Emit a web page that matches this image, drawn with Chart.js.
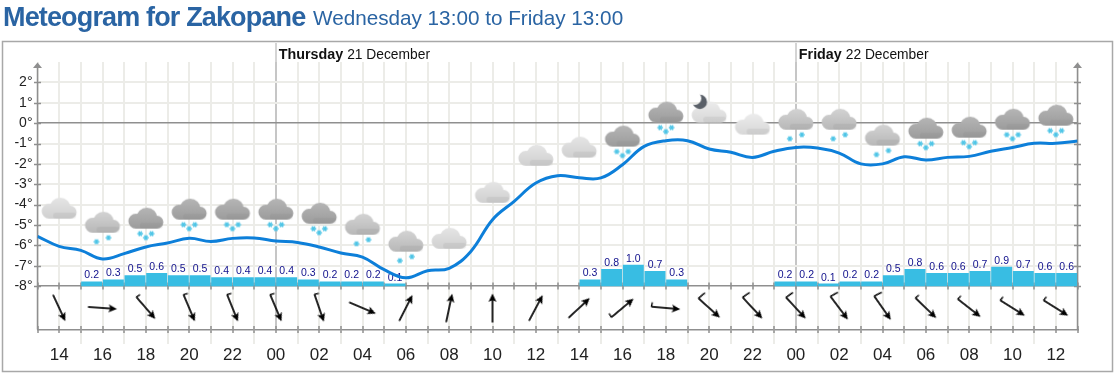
<!DOCTYPE html>
<html>
<head>
<meta charset="utf-8">
<title>Meteogram for Zakopane</title>
<script src="https://cdn.jsdelivr.net/npm/chart.js@4/dist/chart.umd.js"></script>
<style>
    body { margin: 0; background: #fff; font-family: "Liberation Sans", Arial, sans-serif; }
    #head { position: absolute; left: 3px; top: 0; white-space: nowrap; color: #2a64a3; line-height: 34px; }
    #head b { font-size: 27px; letter-spacing: -0.85px; }
    #head span { position: absolute; left: 310px; top: 1px; font-size: 20.7px; }
    #meteogram { position: absolute; left: 0; top: 0; }
</style>
</head>
<body>
<canvas id="meteogram" width="1118" height="377"></canvas>
<div id="head"><b>Meteogram for Zakopane</b> <span>Wednesday 13:00 to Friday 13:00</span></div>
<script>
// hours since Wednesday 13:00
var hours = [0, 1, 2, 3, 4, 5, 6, 7, 8, 9, 10, 11, 12, 13, 14, 15, 16, 17, 18, 19, 20, 21, 22, 23, 24,
    25, 26, 27, 28, 29, 30, 31, 32, 33, 34, 35, 36, 37, 38, 39, 40, 41, 42, 43, 44, 45, 46, 47, 48];
var temperature = [-5.56, -6.05, -6.25, -6.67, -6.41, -6.08, -5.89, -5.66, -5.81, -5.66, -5.64, -5.79, -5.86,
    -6.08, -6.38, -6.58, -7.2, -7.6, -7.25, -7.13, -6.3, -4.74, -3.84, -2.94, -2.58, -2.68, -2.69, -2.04,
    -1.14, -0.86, -0.86, -1.27, -1.43, -1.68, -1.38, -1.19, -1.22, -1.47, -2.0, -2.0, -1.65, -1.81, -1.68,
    -1.63, -1.38, -1.19, -0.99, -0.99, -0.88];

var precipHours = [2.5, 3.5, 4.5, 5.5, 6.5, 7.5, 8.5, 9.5, 10.5, 11.5, 12.5, 13.5, 14.5, 15.5, 16.5,
    25.5, 26.5, 27.5, 28.5, 29.5,
    34.5, 35.5, 36.5, 37.5, 38.5, 39.5, 40.5, 41.5, 42.5, 43.5, 44.5, 45.5, 46.5, 47.5];
var precip = [0.2, 0.3, 0.5, 0.6, 0.5, 0.5, 0.4, 0.4, 0.4, 0.4, 0.3, 0.2, 0.2, 0.2, 0.1,
    0.3, 0.8, 1.0, 0.7, 0.3,
    0.2, 0.2, 0.1, 0.2, 0.2, 0.5, 0.8, 0.6, 0.6, 0.7, 0.9, 0.7, 0.6, 0.6];

var labelHours = [1, 3, 5, 7, 9, 11, 13, 15, 17, 19, 21, 23, 25, 27, 29, 31, 33, 35, 37, 39, 41, 43, 45, 47];
var hourLabels = ['14', '16', '18', '20', '22', '00', '02', '04', '06', '08', '10', '12',
    '14', '16', '18', '20', '22', '00', '02', '04', '06', '08', '10', '12'];
var tempTicks = [-8, -7, -6, -5, -4, -3, -2, -1, 0, 1, 2];

// cloud icon: level on the temperature axis, shade 0-3, snowflake count
var cloudLevel = [-4.2, -4.89, -4.69, -4.25, -4.25, -4.25, -4.45, -4.99, -5.82, -5.68, -3.42, -1.6,
    -1.2, -0.66, 0.52, 0.52, -0.07, 0.17, 0.17, -0.61, -0.27, -0.22, 0.17, 0.37];
var cloudShade = [1, 2, 3, 3, 3, 3, 3, 2, 2, 1, 1, 1, 1, 3, 3, 0, 0, 2, 2, 2, 3, 3, 3, 3];
var cloudSnow = [0, 2, 3, 3, 3, 3, 3, 2, 2, 0, 0, 0, 0, 3, 3, 0, 0, 2, 2, 2, 3, 3, 3, 3];
var moonHour = [30.5];
var moonLevel = [1.0];

// wind arrow heading in degrees clockwise from up, barb 0 none, 1 short, 2 long
var windDir = [155, 94, 139, 157, 158, 157, 161, 113, 27, 12, 0, 28, 47, 50, 95, 132, 137, 137, 143, 145, 134, 128, 122, 122];
var windBarb = [0, 0, 1, 1, 1, 1, 1, 0, 0, 0, 0, 0, 0, 1, 1, 2, 2, 2, 2, 2, 1, 1, 1, 1];
var windLevel = [-9.08];

var dayHours = [11, 35];
var dayNames = ['Thursday', 'Friday'];
var dayDates = ['21 December', '22 December'];

var axisColor = '#8f8f8f';
var gridColor = '#ecece8';

function cloudIcon(shade, snow) {
    var colors = [['#ebebeb', '#d8d8d8'], ['#e4e4e4', '#d0d0d0'], ['#d2d2d2', '#b8b8b8'], ['#b4b4b4', '#9c9c9c']];
    var c = document.createElement('canvas');
    c.width = 44;
    c.height = 60;
    var ctx = c.getContext('2d');
    ctx.translate(22, 30);
    ctx.filter = 'blur(0.4px)';
    var grad = ctx.createLinearGradient(0, -10, 0, 10);
    grad.addColorStop(0, colors[shade][0]);
    grad.addColorStop(1, colors[shade][1]);
    ctx.fillStyle = grad;
    ctx.beginPath();
    ctx.arc(-10, 2.5, 7.5, 0, Math.PI * 2);
    ctx.moveTo(11.5, -0.5);
    ctx.arc(1, -0.5, 10.5, 0, Math.PI * 2);
    ctx.moveTo(17.5, 3.5);
    ctx.arc(11, 3.5, 6.5, 0, Math.PI * 2);
    ctx.rect(-10, 2, 21, 8);
    ctx.fill('nonzero');
    ctx.fillStyle = 'rgba(120,120,120,0.12)';
    ctx.beginPath();
    ctx.roundRect(-6, 4, 23, 6, 3);
    ctx.fill();

    var flakes = snow == 3 ? [[-5.7, 15], [0, 19], [5.7, 15]] : snow == 2 ? [[-6, 19], [6, 15]] : [];
    ctx.filter = 'none';
    ctx.strokeStyle = '#4cc4e6';
    ctx.lineWidth = 1.5;
    flakes.forEach(function (f) {
        for (var a = 0; a < 3; a++) {
            var ang = a * Math.PI / 3;
            ctx.beginPath();
            ctx.moveTo(f[0] - Math.cos(ang) * 2.8, f[1] - Math.sin(ang) * 2.8);
            ctx.lineTo(f[0] + Math.cos(ang) * 2.8, f[1] + Math.sin(ang) * 2.8);
            ctx.stroke();
        }
    });
    return c;
}

function moonIcon() {
    var c = document.createElement('canvas');
    c.width = 24;
    c.height = 24;
    var ctx = c.getContext('2d');
    ctx.translate(12, 12);
    ctx.fillStyle = '#5a6068';
    ctx.beginPath();
    ctx.arc(1.5, -1, 7.2, 0, Math.PI * 2);
    ctx.fill();
    ctx.globalCompositeOperation = 'destination-out';
    ctx.beginPath();
    ctx.arc(-3.5, -4.5, 6.5, 0, Math.PI * 2);
    ctx.fill();
    return c;
}

function windIcon(barb) {
    var c = document.createElement('canvas');
    c.width = 44;
    c.height = 44;
    var ctx = c.getContext('2d');
    ctx.translate(22, 22);
    ctx.strokeStyle = '#000';
    ctx.fillStyle = '#000';
    ctx.lineWidth = 1.7;
    ctx.beginPath();
    ctx.moveTo(0, 14.5);
    ctx.lineTo(0, -10);
    ctx.stroke();
    ctx.beginPath();
    ctx.moveTo(0, -14.5);
    ctx.lineTo(4, -6);
    ctx.lineTo(0, -8);
    ctx.lineTo(-4, -6);
    ctx.closePath();
    ctx.fill();
    if (barb > 0) {
        var len = barb == 2 ? 8.5 : 4.5;
        ctx.lineWidth = 1.4;
        ctx.beginPath();
        ctx.moveTo(0, 14.5);
        ctx.lineTo(-len * 0.99, 14.5 - len * 0.14);
        ctx.stroke();
    }
    return c;
}

var decorPlugin = {
    id: 'decor',
    beforeDraw: function (chart) {
        var ctx = chart.ctx;
        ctx.save();
        ctx.strokeStyle = '#a8a8a8';
        ctx.lineWidth = 1.5;
        ctx.strokeRect(2.5, 41.5, 1110, 330);
        ctx.restore();
    },
    beforeDatasetsDraw: function (chart) {
        var ctx = chart.ctx;
        var x = chart.scales.x;
        var y = chart.scales.y;
        var area = chart.chartArea;
        ctx.save();

        // grid lines running below the wind band, every other hour
        ctx.strokeStyle = gridColor;
        ctx.lineWidth = 2;
        hours.forEach(function (h) {
            if (h % 2 == 0 && h > 0 && h < 48) {
                var px = Math.round(x.getPixelForValue(h));
                ctx.beginPath();
                ctx.moveTo(px, area.bottom);
                ctx.lineTo(px, 344);
                ctx.stroke();
            }
        });

        // day separators
        ctx.strokeStyle = '#c6c6c6';
        ctx.lineWidth = 1.5;
        dayHours.forEach(function (h) {
            var px = Math.round(x.getPixelForValue(h));
            ctx.beginPath();
            ctx.moveTo(px, 43);
            ctx.lineTo(px, area.top);
            ctx.stroke();
        });

        // axis lines, ticks and arrow heads
        var minusEight = y.getPixelForValue(-8);
        ctx.strokeStyle = axisColor;
        ctx.fillStyle = axisColor;
        ctx.lineWidth = 1.5;
        [area.left, area.right].forEach(function (ax) {
            ctx.beginPath();
            ctx.moveTo(ax, area.bottom);
            ctx.lineTo(ax, area.top + 3);
            ctx.stroke();
            ctx.beginPath();
            ctx.moveTo(ax, area.top + 0.5);
            ctx.lineTo(ax + 4.5, area.top + 6);
            ctx.lineTo(ax - 4.5, area.top + 6);
            ctx.closePath();
            ctx.fill();
            tempTicks.forEach(function (t) {
                var py = Math.round(y.getPixelForValue(t)) + 0.5;
                ctx.beginPath();
                ctx.moveTo(ax - 3.5, py);
                ctx.lineTo(ax + 3.5, py);
                ctx.stroke();
            });
        });
        hours.forEach(function (h) {
            var px = Math.round(x.getPixelForValue(h));
            [minusEight, area.bottom].forEach(function (py) {
                ctx.beginPath();
                ctx.moveTo(px, py - 3.5);
                ctx.lineTo(px, py + 3.5);
                ctx.stroke();
            });
        });
        ctx.restore();
    },
    afterDatasetsDraw: function (chart) {
        var ctx = chart.ctx;
        var x = chart.scales.x;
        ctx.save();

        ctx.fillStyle = '#111';
        ctx.textAlign = 'left';
        ctx.textBaseline = 'alphabetic';
        dayHours.forEach(function (h, i) {
            var px = x.getPixelForValue(h) + 3;
            ctx.font = 'bold 14.3px "Liberation Sans", Arial, sans-serif';
            ctx.fillText(dayNames[i], px, 59);
            var w = ctx.measureText(dayNames[i] + ' ').width;
            ctx.font = '13.8px "Liberation Sans", Arial, sans-serif';
            ctx.fillText(dayDates[i], px + w, 59);
        });
        ctx.restore();
    }
};

// amounts go on before the temperature line, it passes over the low ones
var barLabelPlugin = {
    id: 'barLabels',
    beforeDatasetDraw: function (chart, args) {
        if (args.index != 4) {
            return;
        }
        var ctx = chart.ctx;
        ctx.save();
        ctx.fillStyle = '#10108c';
        ctx.font = '10.5px "Liberation Sans", Arial, sans-serif';
        ctx.textAlign = 'center';
        ctx.textBaseline = 'bottom';
        chart.getDatasetMeta(0).data.forEach(function (bar, i) {
            ctx.fillText(precip[i].toFixed(1), bar.x, bar.y - 1);
        });
        ctx.restore();
    }
};

var chart = new Chart(document.getElementById('meteogram').getContext('2d'), {
    type: 'line',
    plugins: [decorPlugin, barLabelPlugin],
    data: {
        datasets: [
            {
                type: 'bar',
                yAxisID: 'y1',
                data: precipHours.map(function (h, i) { return { x: h, y: precip[i] }; }),
                backgroundColor: '#38bde3',
                barThickness: 20.3,
                grouped: false,
                order: 4
            },
            {
                type: 'scatter',
                data: labelHours.map(function (h, i) { return { x: h, y: cloudLevel[i] }; }),
                pointStyle: cloudLevel.map(function (v, i) { return cloudIcon(cloudShade[i], cloudSnow[i]); }),
                pointRadius: 1,
                clip: false,
                order: 3
            },
            {
                type: 'scatter',
                data: moonHour.map(function (h, i) { return { x: h, y: moonLevel[i] }; }),
                pointStyle: moonIcon(),
                pointRadius: 1,
                clip: false,
                order: 2
            },
            {
                type: 'scatter',
                data: labelHours.map(function (h) { return { x: h, y: windLevel[0] }; }),
                pointStyle: windBarb.map(windIcon),
                pointRotation: windDir,
                pointRadius: 1,
                clip: false,
                order: 2
            },
            {
                type: 'line',
                data: hours.map(function (h, i) { return { x: h, y: temperature[i] }; }),
                borderColor: '#0d7fd9',
                borderWidth: 3,
                tension: 0.4,
                pointRadius: 0,
                fill: false,
                order: 1
            }
        ]
    },
    options: {
        responsive: false,
        animation: false,
        layout: { padding: { top: 62, right: 40.5, left: 0, bottom: 0 } },
        plugins: {
            legend: { display: false },
            title: { display: false },
            tooltip: { enabled: false }
        },
        scales: {
            x: {
                type: 'linear',
                min: 0,
                max: 48,
                offset: false,
                afterFit: function (scale) { scale.height = 47.5; },
                afterBuildTicks: function (scale) {
                    scale.ticks = hours.map(function (h) { return { value: h }; });
                },
                grid: {
                    offset: false,
                    drawTicks: false,
                    lineWidth: 2,
                    color: function (ctx) {
                        return dayHours.indexOf(ctx.tick.value) >= 0 ? '#c6c6c6' : gridColor;
                    }
                },
                border: { display: true, color: axisColor, width: 1.5 },
                ticks: {
                    autoSkip: false,
                    maxRotation: 0,
                    padding: 16,
                    color: '#222',
                    font: { size: 17, family: '"Liberation Sans", Arial, sans-serif' },
                    callback: function (value) {
                        var i = labelHours.indexOf(value);
                        return i >= 0 ? hourLabels[i] : '';
                    }
                }
            },
            y: {
                min: -10.138,
                max: 3.007,
                afterFit: function (scale) { scale.width = 37.5; },
                afterBuildTicks: function (scale) {
                    scale.ticks = tempTicks.map(function (t) { return { value: t }; });
                },
                grid: {
                    drawTicks: false,
                    lineWidth: function (ctx) {
                        return ctx.tick.value == 0 || ctx.tick.value == -8 ? 1.5 : 2;
                    },
                    color: function (ctx) {
                        return ctx.tick.value == 0 || ctx.tick.value == -8 ? axisColor : gridColor;
                    }
                },
                border: { display: false },
                ticks: {
                    autoSkip: false,
                    padding: 5,
                    color: '#222',
                    font: { size: 14, family: '"Liberation Sans", Arial, sans-serif' },
                    callback: function (value) { return value + '°'; }
                }
            },
            y1: {
                display: false,
                min: -2.071,
                max: 10.667
            }
        }
    }
});
</script>
</body>
</html>
